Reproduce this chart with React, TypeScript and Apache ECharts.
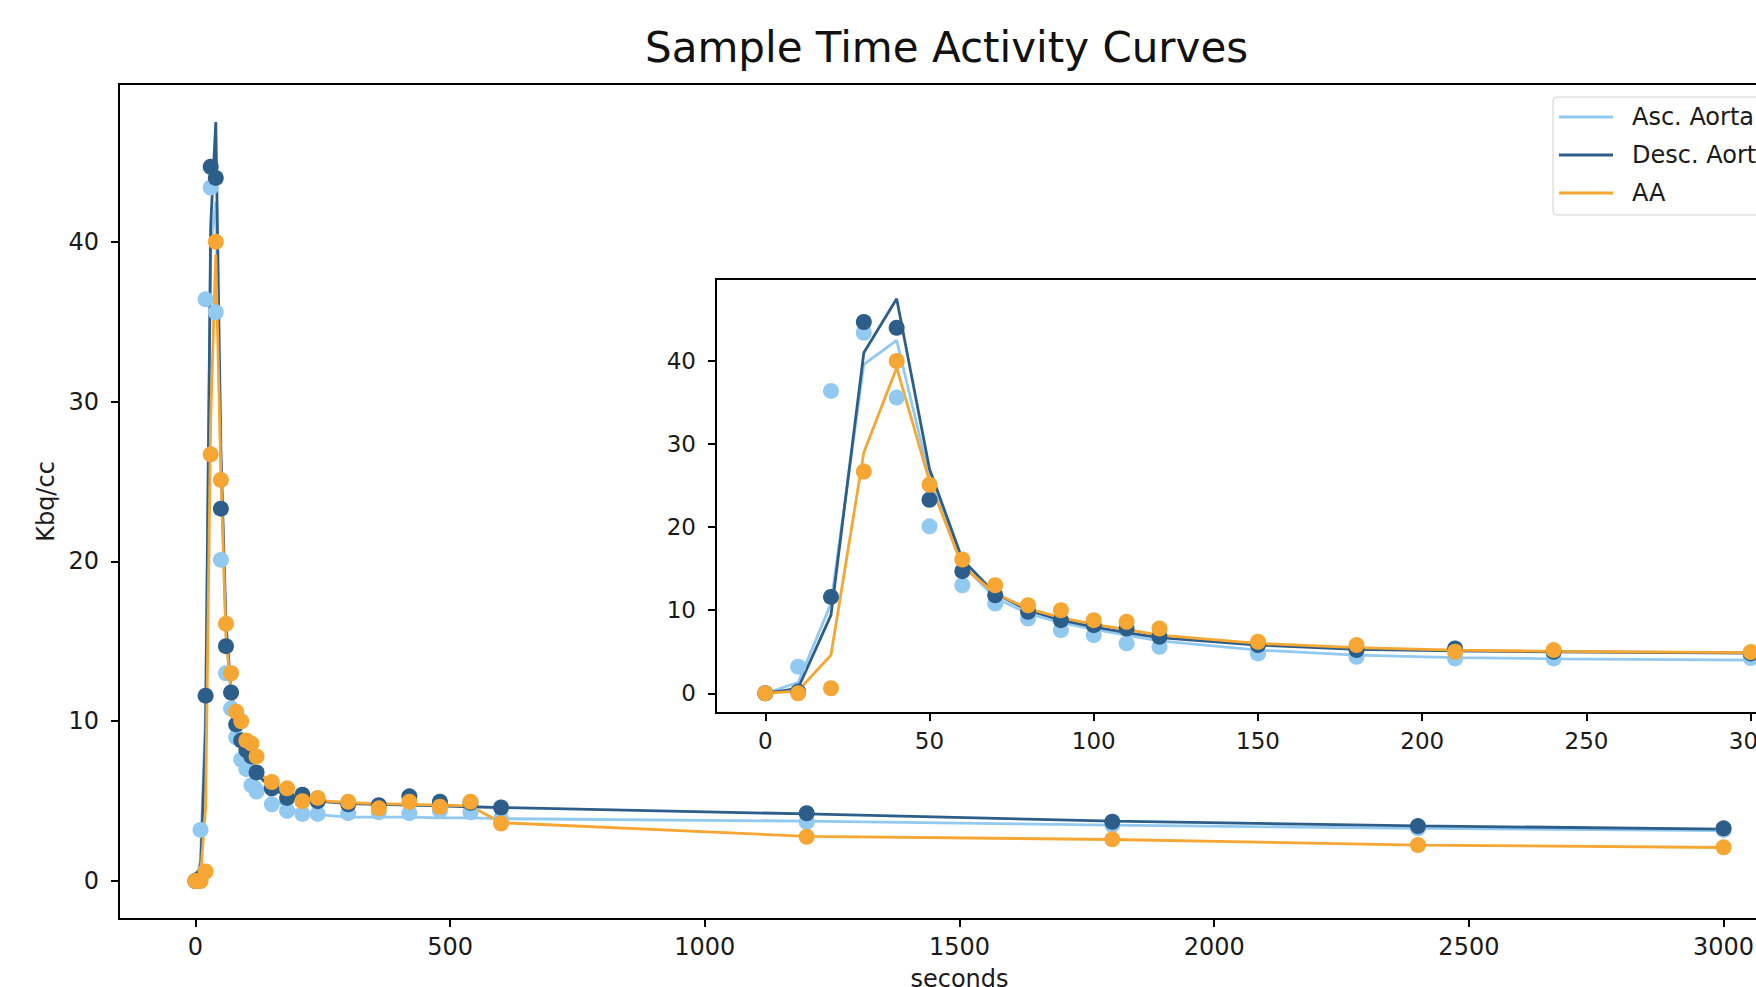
import React, { useEffect, useRef } from "react";
import * as echarts from "echarts";

const times = [0, 10, 20, 30, 40, 50, 60, 70, 80, 90, 100, 110, 120, 150, 180, 210, 240, 300, 360, 420, 480, 540, 600, 1200, 1800, 2400, 3000];

const ascPoints = [0, 3.2, 36.4, 43.4, 35.6, 20.1, 13.0, 10.8, 9.0, 7.6, 7.0, 6.0, 5.6, 4.8, 4.4, 4.2, 4.2, 4.25, 4.3, 4.25, 4.4, 4.3, 3.9, 3.7, 3.5, 3.3, 3.2];
const descPoints = [0, 0.2, 11.6, 44.7, 44.0, 23.3, 14.7, 11.8, 9.8, 8.8, 8.2, 7.8, 6.8, 5.8, 5.2, 5.4, 5.0, 4.8, 4.75, 5.3, 4.96, 4.9, 4.6, 4.24, 3.71, 3.44, 3.3];
const aaPoints = [0, 0, 0.6, 26.7, 40.0, 25.1, 16.1, 13.0, 10.6, 10.0, 8.8, 8.6, 7.8, 6.2, 5.8, 5.0, 5.2, 4.96, 4.55, 4.96, 4.65, 4.96, 3.6, 2.77, 2.61, 2.25, 2.11];

const ascFit = [0, 1.3, 10.8, 39.6, 42.5, 26.0, 15.5, 11.5, 9.6, 8.5, 7.7, 7.0, 6.3, 5.2, 4.6, 4.3, 4.15, 4.0, 4.0, 4.0, 3.95, 3.95, 3.9, 3.75, 3.5, 3.3, 3.15];
const descFit = [0, 0.6, 9.4, 41.0, 47.5, 27.0, 16.1, 12.0, 10.0, 8.8, 8.0, 7.3, 6.7, 5.8, 5.3, 5.1, 5.0, 4.85, 4.8, 4.75, 4.7, 4.65, 4.6, 4.2, 3.75, 3.45, 3.25];
const aaFit = [0, 0.3, 4.6, 29.0, 39.2, 25.5, 15.3, 12.0, 10.2, 9.1, 8.3, 7.7, 7.0, 6.0, 5.5, 5.2, 5.05, 4.9, 4.85, 4.8, 4.75, 4.7, 3.65, 2.8, 2.6, 2.25, 2.1];

const seriesNames = ["Asc. Aorta", "Desc. Aorta", "AA"];
const seriesColors = ["#92C9F0", "#2D5E8A", "#F5A633"];

const xTicksMain = [0, 500, 1000, 1500, 2000, 2500, 3000];
const xTicksInset = [0, 50, 100, 150, 200, 250, 300];
const yTicks = [0, 10, 20, 30, 40];
const insetMaxTime = 300;

const titleText = "Sample Time Activity Curves";
const xName = "seconds";
const yName = "Kbq/cc";

const FONT = "DejaVu Sans";

function pairs(vals: number[], maxT?: number) {
  const out: number[][] = [];
  times.forEach((t, i) => {
    if (maxT === undefined || t <= maxT) out.push([t, vals[i]]);
  });
  return out;
}

const plain = (v: number) => String(v);

export default function App() {
  const ref = useRef<HTMLDivElement>(null);
  useEffect(() => {
    if (!ref.current) return;
    const chart = echarts.init(ref.current, null, { renderer: "svg" });
    const pointSets = [ascPoints, descPoints, aaPoints];
    const fitSets = [ascFit, descFit, aaFit];

    const axisBase = {
      axisLine: { show: true, onZero: false, lineStyle: { color: "#000", width: 2 } },
      splitLine: { show: false },
    };
    const ticks = (vals: number[]) => ({ show: true, length: 8, customValues: vals, lineStyle: { color: "#000", width: 2 } });
    const labels = (vals: number[], fs: number, margin: number) => ({
      color: "#1a1a1a",
      fontSize: fs,
      fontFamily: FONT,
      margin,
      customValues: vals,
      formatter: plain,
    });

    const series: any[] = [];
    [0, 1].forEach((gi) => {
      for (let k = 0; k < 3; k++) {
        series.push({
          type: "scatter",
          name: seriesNames[k] + " data",
          xAxisIndex: gi,
          yAxisIndex: gi,
          data: pairs(pointSets[k], gi === 1 ? insetMaxTime : undefined),
          symbolSize: 16,
          itemStyle: { color: seriesColors[k], opacity: 1 },
          z: 2,
        });
        series.push({
          type: "line",
          name: seriesNames[k],
          xAxisIndex: gi,
          yAxisIndex: gi,
          data: pairs(fitSets[k], gi === 1 ? insetMaxTime : undefined),
          showSymbol: false,
          symbol: "none",
          lineStyle: { color: seriesColors[k], width: 2.8 },
          itemStyle: { color: seriesColors[k] },
          z: 2,
        });
      }
    });

    chart.setOption({
      animation: false,
      backgroundColor: "#fff",
      title: {
        text: titleText,
        left: 640,
        top: 21,
        textStyle: { fontFamily: FONT, fontSize: 42, fontWeight: "normal", color: "#111" },
      },
      legend: {
        data: seriesNames,
        orient: "vertical",
        left: 1553,
        top: 97,
        icon: "rect",
        itemWidth: 54,
        itemHeight: 3,
        itemGap: 10,
        padding: [6, 14, 8, 6],
        backgroundColor: "rgba(255,255,255,0.8)",
        borderColor: "#d0d0d0",
        borderWidth: 1,
        borderRadius: 4,
        textStyle: { fontFamily: FONT, fontSize: 24, color: "#1a1a1a", lineHeight: 28, padding: [0, 0, 0, 14] },
        z: 10,
      },
      grid: [
        { left: 119, top: 84, width: 1681, height: 835, show: true, borderColor: "#000", borderWidth: 2, backgroundColor: "#fff", containLabel: false, outerBoundsMode: "none" },
        { left: 716, top: 279, width: 1084, height: 434, show: true, borderColor: "#000", borderWidth: 2, backgroundColor: "#fff", containLabel: false, outerBoundsMode: "none", z: 1 },
      ],
      xAxis: [
        {
          type: "value",
          gridIndex: 0,
          min: -150,
          max: 3150,
          ...axisBase,
          axisTick: ticks(xTicksMain),
          axisLabel: labels(xTicksMain, 24, 16),
          name: xName,
          nameLocation: "middle",
          nameGap: 48,
          nameTextStyle: { fontFamily: FONT, fontSize: 24, color: "#1a1a1a", verticalAlign: "top" },
        },
        {
          type: "value",
          gridIndex: 1,
          min: -15,
          max: 315,
          ...axisBase,
          axisTick: ticks(xTicksInset),
          axisLabel: labels(xTicksInset, 23, 16),
        },
      ],
      yAxis: [
        {
          type: "value",
          gridIndex: 0,
          min: -2.375,
          max: 49.875,
          ...axisBase,
          axisTick: ticks(yTicks),
          axisLabel: labels(yTicks, 24, 20),
          name: yName,
          nameLocation: "middle",
          nameGap: 55,
          nameRotate: 90,
          nameTextStyle: { fontFamily: FONT, fontSize: 24, color: "#1a1a1a" },
        },
        {
          type: "value",
          gridIndex: 1,
          min: -2.375,
          max: 49.875,
          ...axisBase,
          axisTick: ticks(yTicks),
          axisLabel: labels(yTicks, 23, 20),
        },
      ],
      series,
    });
    return () => chart.dispose();
  }, []);

  return (
    <div style={{ position: "fixed", left: 0, top: 0, width: 1756, height: 987, overflow: "hidden", background: "#fff" }}>
      <div ref={ref} style={{ width: 1810, height: 987 }} />
    </div>
  );
}
